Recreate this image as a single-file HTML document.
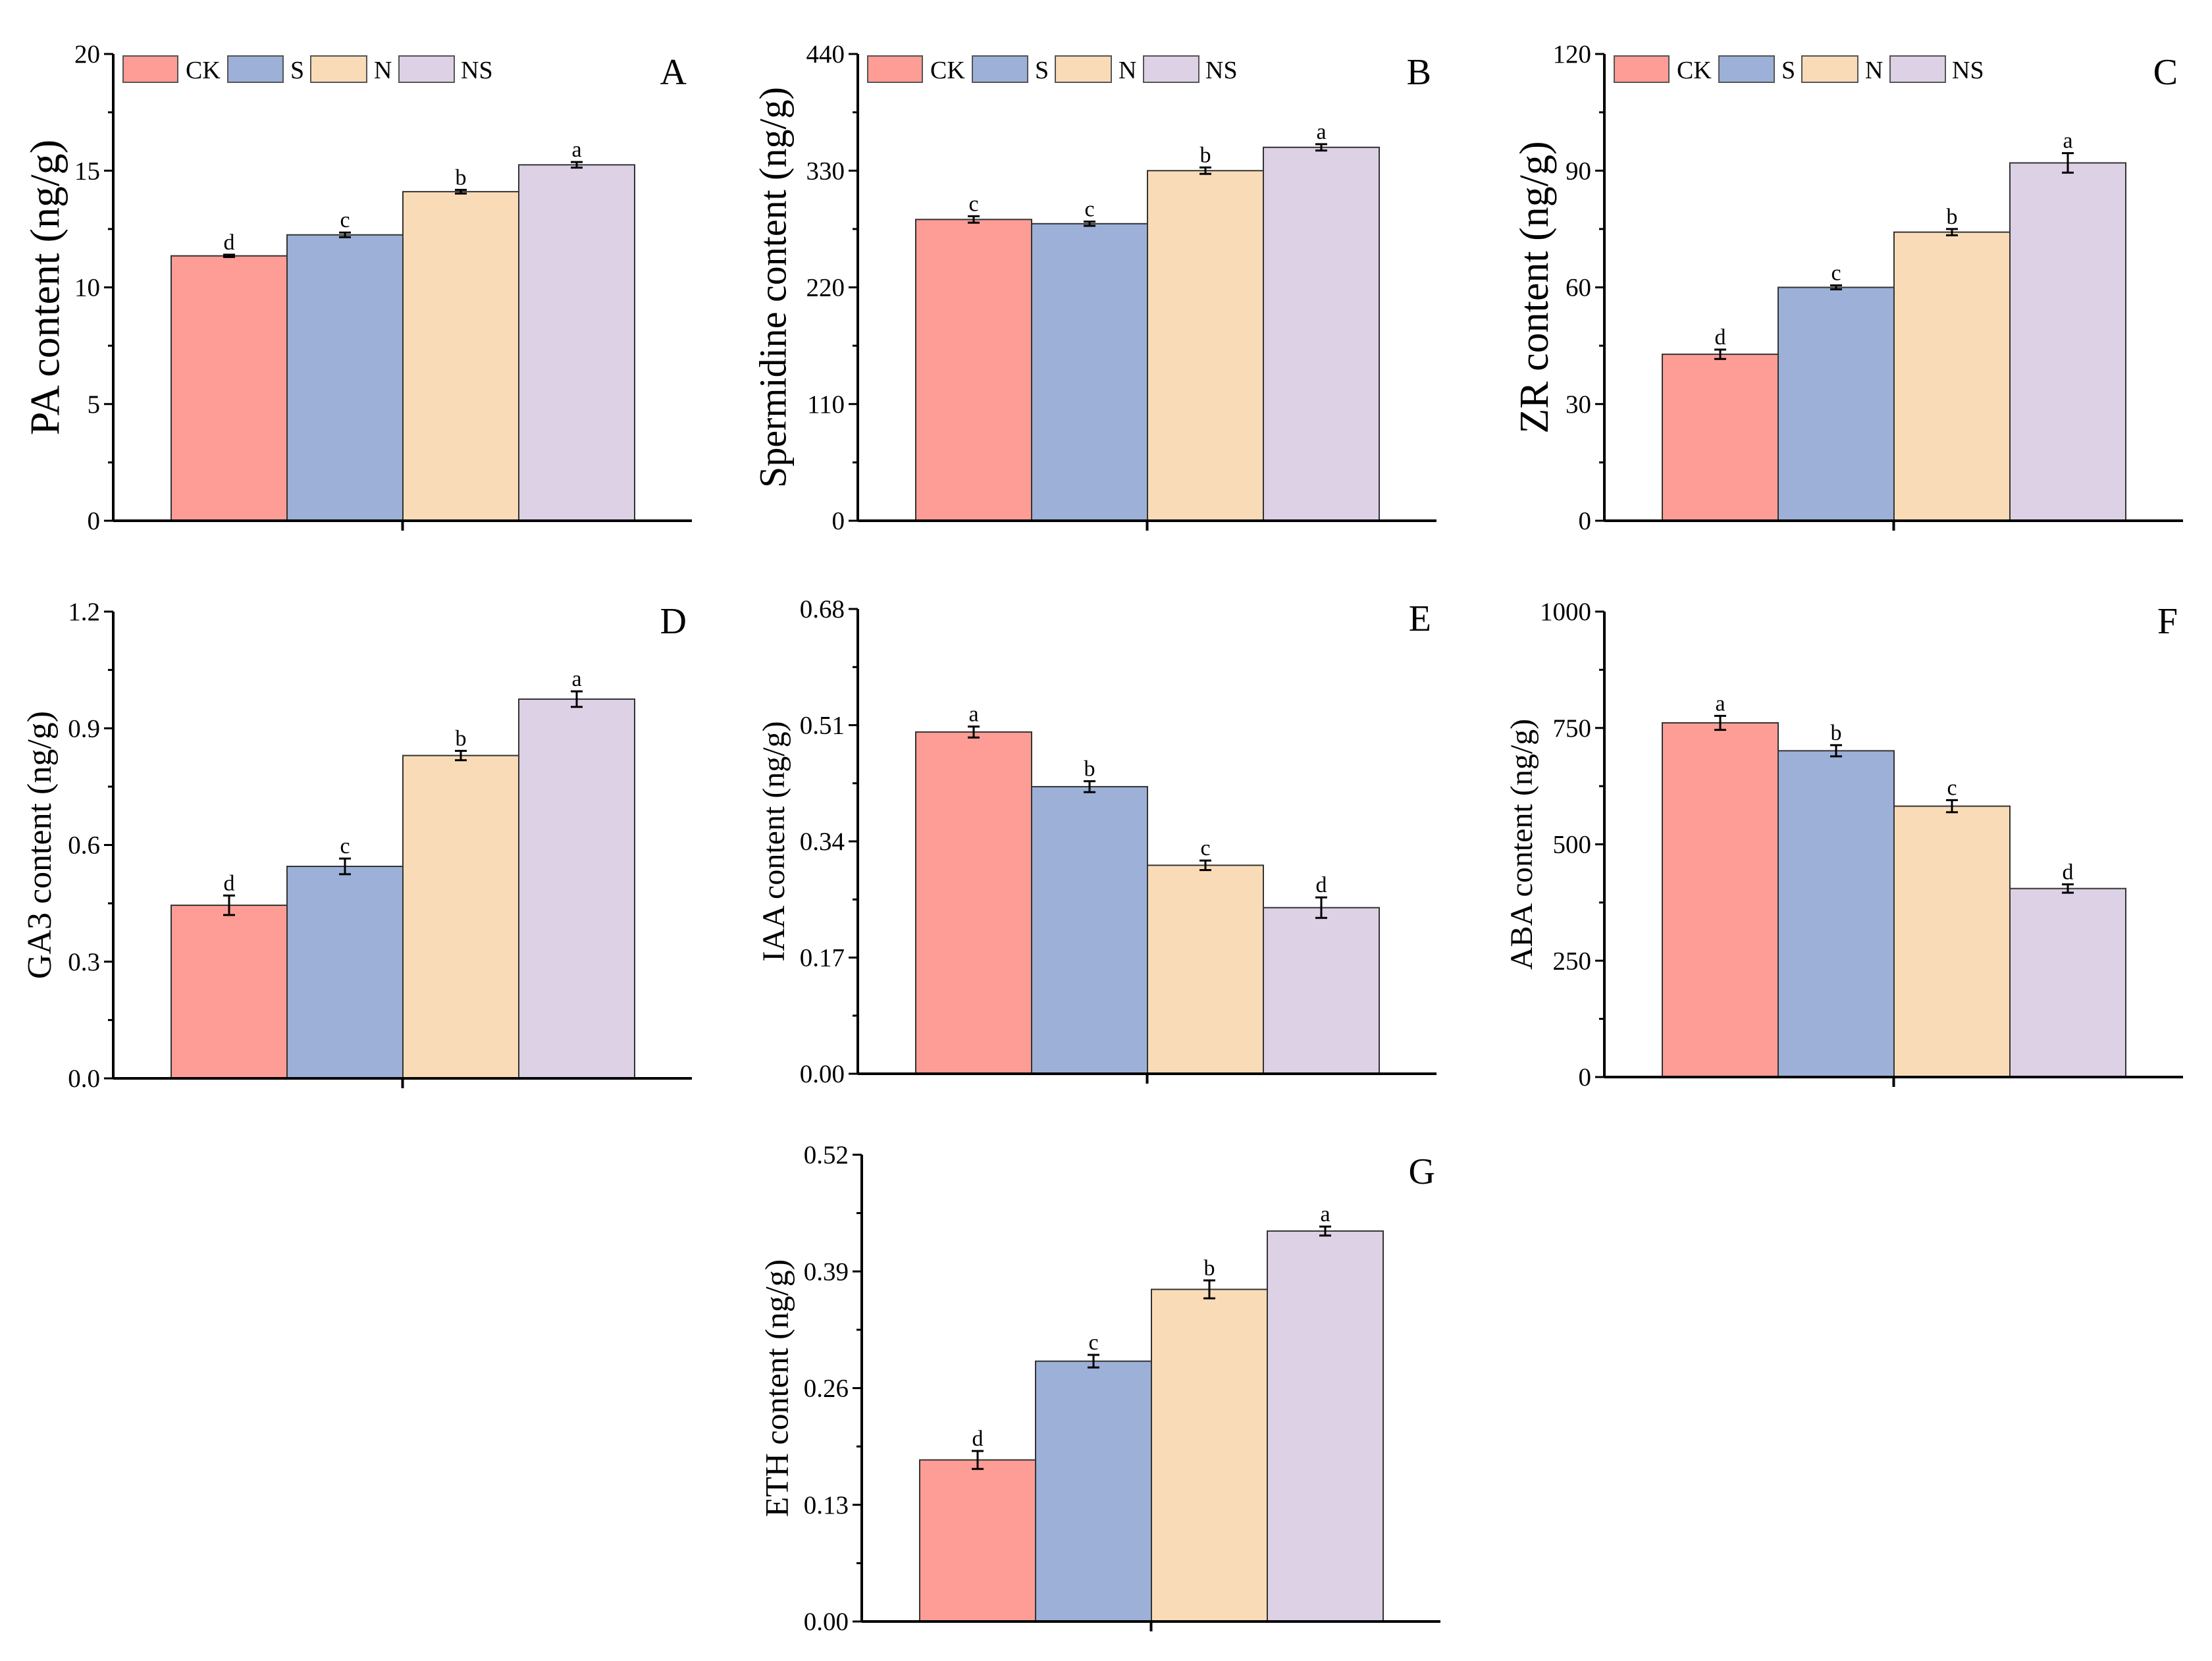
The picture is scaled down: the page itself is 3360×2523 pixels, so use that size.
<!DOCTYPE html>
<html><head><meta charset="utf-8"><style>
html,body{margin:0;padding:0;background:#fff}
svg{display:block}
text{font-family:"Liberation Serif",serif;fill:#000}
</style></head><body>
<svg id="fig" width="3360" height="2523" viewBox="0 0 3360 2523" xmlns="http://www.w3.org/2000/svg"></svg>
<script>
const groups = ["CK","S","N","NS"];
const colors = ["#fe9d95","#9cb0d8","#f9dcb7","#ddd1e6"];
const paValues = [11.35,12.25,14.1,15.25];
const paErrors = [0.05,0.1,0.08,0.12];
const paLetters = ["d","c","b","a"];
const paTicks = [0,5,10,15,20];
const spdValues = [284,280,330,352];
const spdErrors = [3,2,3,3];
const spdLetters = ["c","c","b","a"];
const spdTicks = [0,110,220,330,440];
const zrValues = [42.8,60,74.2,92];
const zrErrors = [1.2,0.5,0.8,2.5];
const zrLetters = ["d","c","b","a"];
const zrTicks = [0,30,60,90,120];
const ga3Values = [0.445,0.545,0.83,0.975];
const ga3Errors = [0.025,0.02,0.012,0.02];
const ga3Letters = ["d","c","b","a"];
const ga3Ticks = ["0.0","0.3","0.6","0.9","1.2"];
const iaaValues = [0.50,0.42,0.305,0.243];
const iaaErrors = [0.008,0.008,0.007,0.015];
const iaaLetters = ["a","b","c","d"];
const iaaTicks = ["0.00","0.17","0.34","0.51","0.68"];
const abaValues = [761,701,582,405];
const abaErrors = [15,12,13,9];
const abaLetters = ["a","b","c","d"];
const abaTicks = [0,250,500,750,1000];
const ethValues = [0.18,0.29,0.37,0.435];
const ethErrors = [0.01,0.007,0.01,0.005];
const ethLetters = ["d","c","b","a"];
const ethTicks = ["0.00","0.13","0.26","0.39","0.52"];

const NS="http://www.w3.org/2000/svg";
const svg=document.getElementById('fig');
function el(tag,attrs,parent){const e=document.createElementNS(NS,tag);for(const k in attrs)e.setAttribute(k,attrs[k]);(parent||svg).appendChild(e);return e;}

const panels=[
 {id:"a",letter:"A",title:"PA content (ng/g)",vals:paValues,errs:paErrors,lets:paLetters,ticks:paTicks,ax:172,top:82,bot:791,tx:75,tfs:64,lb:46,legend:true},
 {id:"b",letter:"B",title:"Spermidine content (ng/g)",vals:spdValues,errs:spdErrors,lets:spdLetters,ticks:spdTicks,ax:1303,top:82,bot:791,tx:1180,tfs:58,lb:46,legend:true},
 {id:"c",letter:"C",title:"ZR content (ng/g)",vals:zrValues,errs:zrErrors,lets:zrLetters,ticks:zrTicks,ax:2437,top:82,bot:791,tx:2337,tfs:62,lb:46,legend:true},
 {id:"d",letter:"D",title:"GA3 content (ng/g)",vals:ga3Values,errs:ga3Errors,lets:ga3Letters,ticks:ga3Ticks,ax:172,top:929,bot:1638,tx:65,tfs:52,lb:33},
 {id:"e",letter:"E",title:"IAA content (ng/g)",vals:iaaValues,errs:iaaErrors,lets:iaaLetters,ticks:iaaTicks,ax:1303,top:925,bot:1631,tx:1180,tfs:48,lb:33},
 {id:"f",letter:"F",title:"ABA content (ng/g)",vals:abaValues,errs:abaErrors,lets:abaLetters,ticks:abaTicks,ax:2437,top:929,bot:1636,tx:2316,tfs:48,lb:33},
 {id:"g",letter:"G",title:"ETH content (ng/g)",vals:ethValues,errs:ethErrors,lets:ethLetters,ticks:ethTicks,ax:1309,top:1754,bot:2463,tx:1185,tfs:50,lb:44}
];
const AXLEN=879, BOFF=88, BW=176;

panels.forEach(p=>{
  const g=el('g',{});
  
  
  const ticksNum=p.ticks.map(Number);
  const max=ticksNum[ticksNum.length-1];
  const y=v=>p.bot-(v/max)*(p.bot-p.top);
  p.vals.forEach((v,i)=>{
    const x=p.ax+BOFF+i*BW;
    const r=el('rect',{x:x,y:y(v),width:BW,height:p.bot-y(v),fill:colors[i],stroke:'#333','stroke-width':2},g);
    
    
    const cx=x+BW/2, y1=y(v+p.errs[i]), y2=y(v-p.errs[i]);
    const eb=el('path',{d:`M${cx},${y1}V${y2}M${cx-9},${y1}H${cx+9}M${cx-9},${y2}H${cx+9}`,stroke:'#000','stroke-width':3,fill:'none'},g);
    
    
    const t=el('text',{x:cx,y:y1-8,'font-size':34,'text-anchor':'middle'},g);
    t.textContent=p.lets[i];
    
    
  });
  const yax=el('path',{d:`M${p.ax},${p.top}V${p.bot}`,stroke:'#000','stroke-width':4},g);
  
  
  const xax=el('path',{d:`M${p.ax},${p.bot}H${p.ax+AXLEN}M${p.ax+AXLEN/2},${p.bot}v15`,stroke:'#000','stroke-width':4},g);
  
  
  ticksNum.forEach((tv,k)=>{
    const ty=y(tv);
    el('path',{d:`M${p.ax-14},${ty}H${p.ax}`,stroke:'#000','stroke-width':3},g);
    if(k<ticksNum.length-1){const my=y(tv+max/(ticksNum.length-1)/2);el('path',{d:`M${p.ax-8},${my}H${p.ax}`,stroke:'#000','stroke-width':3},g);}
    const t=el('text',{x:p.ax-20,y:ty+13,'font-size':39,'text-anchor':'end'},g);
    t.textContent=String(p.ticks[k]);
    
    
  });
  const cy=(p.top+p.bot)/2;
  const tt=el('text',{x:p.tx,y:cy,'font-size':p.tfs,'text-anchor':'middle',transform:`rotate(-90 ${p.tx} ${cy})`,'dominant-baseline':'middle'},g);
  tt.textContent=p.title;
  
  
  const pl=el('text',{x:p.ax+AXLEN-8,y:p.top+p.lb,'font-size':56,'text-anchor':'end'},g);
  pl.textContent=p.letter;
  
  
  if(p.legend){
    const bx=[15,174,300,434], tx=[110,269,396,528], bwid=[83,84,85,84];
    groups.forEach((gn,i)=>{
      const r=el('rect',{x:p.ax+bx[i],y:p.top+3,width:bwid[i],height:40,fill:colors[i],stroke:'#555','stroke-width':2},g);
      
      
      const t=el('text',{x:p.ax+tx[i],y:p.top+37,'font-size':38},g);
      t.textContent=gn;
      
      
    });
  }
});
</script>
</body></html>
